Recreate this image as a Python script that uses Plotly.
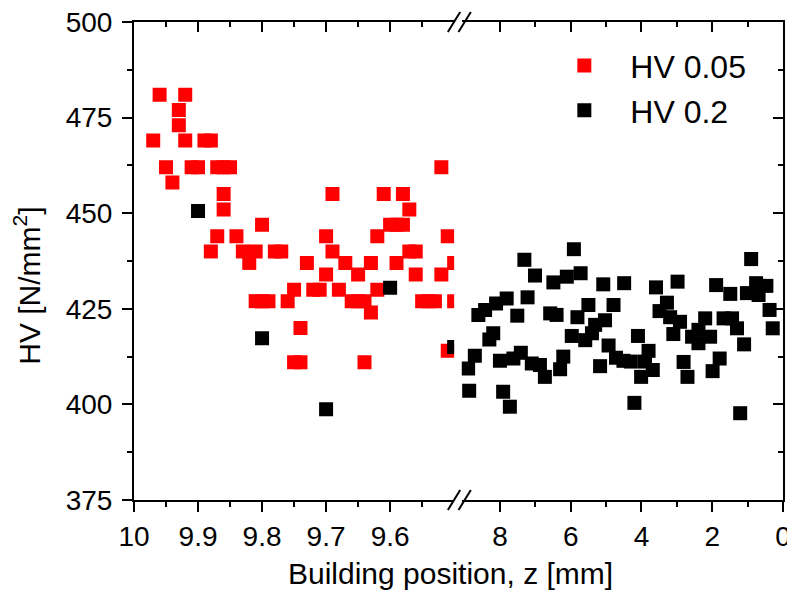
import plotly.graph_objects as go

# ---------------- data ----------------
red_z = [9.97, 9.96, 9.95, 9.94, 9.93, 9.93, 9.92, 9.92, 9.91, 9.90, 9.89, 9.88, 9.88,
         9.87, 9.87, 9.86, 9.86, 9.86, 9.85, 9.84, 9.83, 9.82, 9.81, 9.81, 9.80, 9.80,
         9.79, 9.78, 9.77, 9.76, 9.75, 9.75, 9.74, 9.74, 9.73, 9.72, 9.71, 9.70, 9.70,
         9.69, 9.69, 9.68, 9.67, 9.66, 9.65, 9.65, 9.64, 9.64, 9.63, 9.63, 9.62, 9.62,
         9.61, 9.60, 9.59, 9.59, 9.58, 9.58, 9.57, 9.57, 9.56, 9.56, 9.55, 9.54, 9.53,
         9.52, 9.52, 9.51, 9.51, 9.50, 9.50]
red_hv = [469, 481, 462, 458, 477, 473, 481, 469, 462, 462, 469, 469, 440,
          462, 444, 462, 455, 451, 462, 444, 440, 437, 440, 427, 447, 427,
          427, 440, 440, 427, 430, 411, 420, 411, 437, 430, 430, 444, 434,
          455, 440, 430, 437, 427, 434, 427, 427, 411, 437, 424, 444, 430,
          455, 447, 447, 437, 455, 447, 451, 440, 440, 434, 427, 427, 427,
          462, 434, 444, 414, 437, 427]

black_z = [9.90, 9.80, 9.70, 9.60, 9.50,
           8.90, 8.87, 8.71, 8.61, 8.42, 8.30, 8.19, 8.11, 8.00, 7.91, 7.81, 7.72,
           7.62, 7.51, 7.41, 7.31, 7.22, 7.10, 7.01, 6.87, 6.73, 6.58, 6.49, 6.40,
           6.30, 6.21, 6.11, 5.97, 5.91, 5.81, 5.72, 5.59, 5.50, 5.40, 5.31, 5.17,
           5.08, 5.03, 4.93, 4.79, 4.72, 4.51, 4.49, 4.30, 4.20, 4.10, 4.01, 3.90,
           3.80, 3.68, 3.59, 3.49, 3.28, 3.19, 3.10, 2.98, 2.91, 2.81, 2.70, 2.57,
           2.39, 2.39, 2.20, 2.06, 1.99, 1.89, 1.79, 1.68, 1.49, 1.44, 1.30, 1.21,
           1.10, 1.02, 0.90, 0.76, 0.69, 0.47, 0.38, 0.29]
black_hv = [450.6, 417.3, 398.7, 430.5, 415.0,
            409.4, 403.6, 412.7, 423.4, 424.7, 417.0, 418.6, 426.4, 411.4, 403.3, 427.7, 399.4,
            412.0, 423.2, 413.5, 437.8, 428.0, 410.7, 433.7, 410.3, 407.2, 423.8, 431.9, 423.4,
            409.2, 412.5, 433.4, 417.9, 440.6, 422.8, 434.3, 416.8, 426.0, 418.6, 420.8, 410.0,
            431.4, 422.0, 415.4, 426.0, 412.2, 411.4, 431.7, 411.2, 400.4, 417.9, 407.2, 411.2,
            414.0, 409.0, 430.6, 424.4, 426.6, 422.8, 418.4, 432.1, 421.6, 411.1, 407.2, 417.7,
            419.5, 416.0, 422.5, 417.7, 408.7, 431.2, 412.0, 422.5, 428.9, 422.5, 419.9, 397.7,
            415.7, 429.1, 438.0, 431.7, 428.6, 431.0, 424.7, 419.9]

left_ticks = [10, 9.9, 9.8, 9.7, 9.6]
left_ticktext = ["10", "9.9", "9.8", "9.7", "9.6"]
left_minor = [9.95, 9.85, 9.75, 9.65, 9.55]
right_ticks = [8, 6, 4, 2, 0]
right_ticktext = ["8", "6", "4", "2", "0"]
right_minor = [7, 5, 3, 1]
y_ticks = [375, 400, 425, 450, 475, 500]
y_minor = [387.5, 412.5, 437.5, 462.5, 487.5]

BREAK = 9.3
FONT = "Arial, Liberation Sans, sans-serif"

# split series by axis segment
rl = [(z, h) for z, h in zip(red_z, red_hv) if z >= BREAK]
bl = [(z, h) for z, h in zip(black_z, black_hv) if z >= BREAK]
br = [(z, h) for z, h in zip(black_z, black_hv) if z < BREAK]

mk_red = dict(symbol="square", size=14, color="#ff0000", line=dict(width=0))
mk_blk = dict(symbol="square", size=14, color="#000000", line=dict(width=0))

fig = go.Figure()
fig.add_trace(go.Scatter(x=[p[0] for p in rl], y=[p[1] for p in rl], mode="markers",
                         marker=mk_red, name="HV 0.05", xaxis="x", yaxis="y"))
fig.add_trace(go.Scatter(x=[p[0] for p in bl], y=[p[1] for p in bl], mode="markers",
                         marker=mk_blk, name="HV 0.2", xaxis="x", yaxis="y"))
fig.add_trace(go.Scatter(x=[p[0] for p in br], y=[p[1] for p in br], mode="markers",
                         marker=mk_blk, name="HV 0.2", showlegend=False, xaxis="x2", yaxis="y"))
# empty traces to materialise the mirror axes
fig.add_trace(go.Scatter(x=[], y=[], showlegend=False, xaxis="x3", yaxis="y", hoverinfo="skip"))
fig.add_trace(go.Scatter(x=[], y=[], showlegend=False, xaxis="x4", yaxis="y", hoverinfo="skip"))
fig.add_trace(go.Scatter(x=[], y=[], showlegend=False, xaxis="x2", yaxis="y2", hoverinfo="skip"))

L_END = 0.4933
R_START = 0.505
tickfont = dict(family=FONT, size=28, color="black")

common_x = dict(showgrid=False, zeroline=False, showline=True, linecolor="black", linewidth=2,
                tickcolor="black", tickwidth=2, tickfont=tickfont, automargin=False,
                ticklabeloverflow="allow")

# the page body adds an 8 px offset; the figure is sized to compensate
fig.update_layout(
    width=787, height=591,
    margin=dict(l=126, r=12, t=14, b=99, autoexpand=False),
    paper_bgcolor="white", plot_bgcolor="white",
    showlegend=True,
    legend=dict(x=0.623, y=0.966, xanchor="left", yanchor="top", bgcolor="rgba(0,0,0,0)",
                font=dict(family=FONT, size=32, color="black"), itemwidth=82,
                tracegroupgap=0),
    xaxis=dict(domain=[0, L_END], range=[10, 9.5], anchor="y", ticks="outside", ticklen=10,
               tickmode="array", tickvals=left_ticks, ticktext=left_ticktext,
               minor=dict(tickmode="array", tickvals=left_minor, ticks="outside", ticklen=5,
                          tickwidth=2, tickcolor="black"),
               **common_x),
    xaxis2=dict(domain=[R_START, 1], range=[9.08, 0], anchor="y", ticks="outside", ticklen=10,
                tickmode="array", tickvals=right_ticks, ticktext=right_ticktext,
                minor=dict(tickmode="array", tickvals=right_minor, ticks="outside", ticklen=5,
                           tickwidth=2, tickcolor="black"),
                **common_x),
    xaxis3=dict(overlaying="x", side="top", range=[10, 9.5], anchor="y", ticks="inside", ticklen=10,
                tickmode="array", tickvals=left_ticks, showticklabels=False,
                minor=dict(tickmode="array", tickvals=left_minor, ticks="inside", ticklen=5,
                           tickwidth=2, tickcolor="black"),
                **common_x),
    xaxis4=dict(overlaying="x2", side="top", range=[9.08, 0], anchor="y", ticks="inside", ticklen=10,
                tickmode="array", tickvals=right_ticks, showticklabels=False,
                minor=dict(tickmode="array", tickvals=right_minor, ticks="inside", ticklen=5,
                           tickwidth=2, tickcolor="black"),
                **common_x),
    yaxis=dict(range=[375, 500], anchor="x", ticks="outside", ticklen=10, ticklabelstandoff=4,
               tickmode="array", tickvals=y_ticks,
               minor=dict(tickmode="array", tickvals=y_minor, ticks="outside", ticklen=5,
                          tickwidth=2, tickcolor="black"),
               **common_x),
    yaxis2=dict(overlaying="y", side="right", anchor="x2", range=[375, 500], ticks="inside", ticklen=10,
                tickmode="array", tickvals=y_ticks, showticklabels=False,
                minor=dict(tickmode="array", tickvals=y_minor, ticks="inside", ticklen=5,
                           tickwidth=2, tickcolor="black"),
                **common_x),
)

# axis titles
fig.add_annotation(text="Building position, z [mm]", xref="paper", yref="paper",
                   x=0.487, y=-0.153, xanchor="center", yanchor="middle", showarrow=False,
                   font=dict(family=FONT, size=30, color="black"))
fig.add_annotation(text="HV [N/mm<sup>2</sup>]", xref="paper", yref="paper", textangle=-90,
                   x=-0.165, y=0.448, xanchor="center", yanchor="middle", showarrow=False,
                   font=dict(family=FONT, size=30, color="black"))

# axis-break slashes (decoration, paper coordinates)
for yb in (0.0, 1.0):
    for x0 in (0.4836, 0.5):
        fig.add_shape(type="line", xref="paper", yref="paper",
                      x0=x0, y0=yb - 0.021, x1=x0 + 0.019, y1=yb + 0.021,
                      line=dict(color="black", width=2))

fig.write_html("out.html")
